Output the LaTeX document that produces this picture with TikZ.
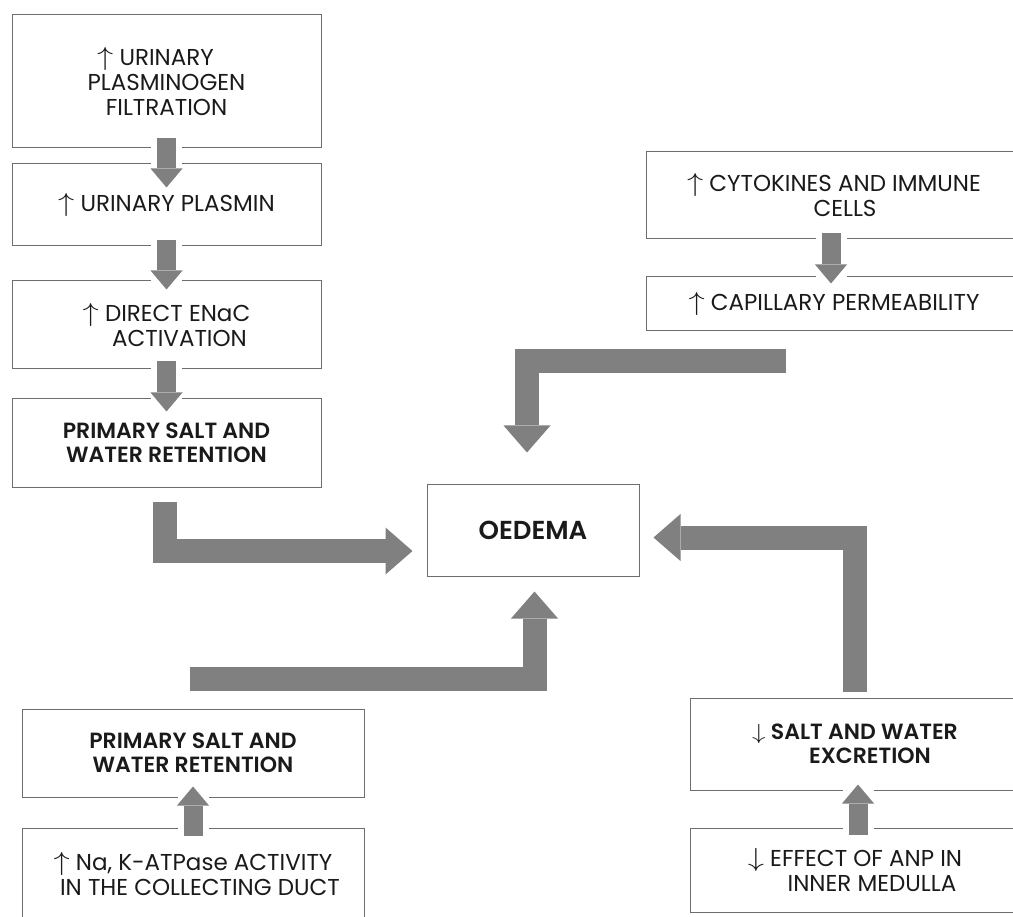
\documentclass[tikz,border=0pt]{standalone}
\usepackage{fontspec}
\setmainfont{Poppins}[BoldFont={* SemiBold}]
\usepackage{tikz}
\usetikzlibrary{arrows.meta,positioning,calc}
\definecolor{arrowgray}{HTML}{808080}
\definecolor{boxgray}{HTML}{6E6E6E}
\definecolor{textdark}{HTML}{1A1A1A}
\newcommand{\upmark}{\scalebox{1.3}[1.05]{$\uparrow$}}
\newcommand{\downmark}{\scalebox{1.3}[1.05]{$\downarrow$}}
\tikzset{
  stepbox/.style={draw=boxgray, line width=1pt, inner sep=0pt, align=center,
    text=textdark, font=\fontsize{23}{25}\selectfont},
  keybox/.style={stepbox, font=\fontsize{22}{24.5}\selectfont\bfseries},
  %% short block arrows inside a chain
  flowarrow/.style={draw=arrowgray, line width=19pt,
    -{Triangle[width=32pt, length=19pt, line width=0pt]},
    preaction={draw=white, line width=31pt, -}},
  %% elbow arrows into the centre box
  elbowarrow/.style={draw=arrowgray, line width=24pt, line join=miter,
    -{Triangle[width=47pt, length=27pt, line width=0pt]}},
}

\begin{document}
\begin{tikzpicture}[x=1pt, y=-1pt]
\useasboundingbox (0,0) rectangle (1013,917);
\clip (0,0) rectangle (1013,917);

%% left chain
\node[stepbox, minimum width=309, minimum height=133] (pPlasminogen) at (166.5,81.5)
  {\upmark{} URINARY\hspace*{22pt}\\PLASMINOGEN\\FILTRATION};
\node[stepbox, minimum width=309, minimum height=82] (pPlasmin) at (166.5,205)
  {\upmark{} URINARY PLASMIN};
\node[stepbox, minimum width=309, minimum height=88] (pEnac) at (166.5,325)
  {\upmark{} DIRECT ENaC\\\hspace*{26pt}ACTIVATION};
\node[keybox, minimum width=309, minimum height=88] (pRetainTop) at (166.5,443)
  {PRIMARY SALT AND\\WATER RETENTION};

%% top right chain
\node[stepbox, minimum width=376, minimum height=87] (pCytokines) at (834,195.5)
  {\upmark{} CYTOKINES AND IMMUNE\\\hspace*{22pt}CELLS};
\node[stepbox, minimum width=376, minimum height=54] (pPermeab) at (834,304)
  {\upmark{} CAPILLARY PERMEABILITY};

%% centre
\node[keybox, minimum width=212, minimum height=92,
  font=\fontsize{26}{30}\selectfont\bfseries] (pOedema) at (533,530) {OEDEMA};

%% bottom left chain
\node[keybox, minimum width=342, minimum height=88] (pRetainLow) at (193,753)
  {PRIMARY SALT AND\\WATER RETENTION};
\node[stepbox, minimum width=342, minimum height=92] (pAtpase) at (193,874)
  {\upmark{} Na, K-ATPase ACTIVITY\\\hspace*{14pt}IN THE COLLECTING DUCT};

%% bottom right chain
\node[keybox, minimum width=330, minimum height=92] (pExcretion) at (855,744)
  {\downmark{} SALT AND WATER\\\hspace*{30pt}EXCRETION};
\node[stepbox, minimum width=330, minimum height=84] (pAnp) at (855,870)
  {\downmark{} EFFECT OF ANP IN\\\hspace*{34pt}INNER MEDULLA};

%% chain arrows
\draw[flowarrow, shorten <=-10pt, shorten >=-24pt] (pPlasminogen) -- (pPlasmin);
\draw[flowarrow, shorten <=-6pt, shorten >=-9pt] (pPlasmin) -- (pEnac);
\draw[flowarrow, shorten <=-8pt, shorten >=-13pt] (pEnac) -- (pRetainTop);
\draw[flowarrow, shorten <=-6pt, shorten >=-7pt] ([xshift=-3pt]pCytokines.south) -- ([xshift=-3pt]pPermeab.north);
\draw[flowarrow, shorten <=-8pt, shorten >=-11pt] (pAtpase) -- (pRetainLow);
\draw[flowarrow, shorten <=-7pt, shorten >=-6pt] ([xshift=3pt]pAnp.north) -- ([xshift=3pt]pExcretion.south);

%% elbow arrows into OEDEMA
\coordinate (tailLeft) at (164.5,502);
\coordinate (tailTop) at (786,361);
\coordinate (tailRight) at (855,692);
\coordinate (tailLow) at (190,679);
\draw[elbowarrow, shorten >=14pt] (tailLeft) |- ([yshift=-21pt]pOedema.west);
\draw[elbowarrow, shorten >=31pt] (tailTop) -| ([xshift=-6pt]pOedema.north);
\draw[elbowarrow, shorten >=14pt] (tailRight) |- ([yshift=-7.5pt]pOedema.east);
\draw[elbowarrow, shorten >=15pt] (tailLow) -| ([xshift=1.5pt]pOedema.south);

\end{tikzpicture}
\end{document}
